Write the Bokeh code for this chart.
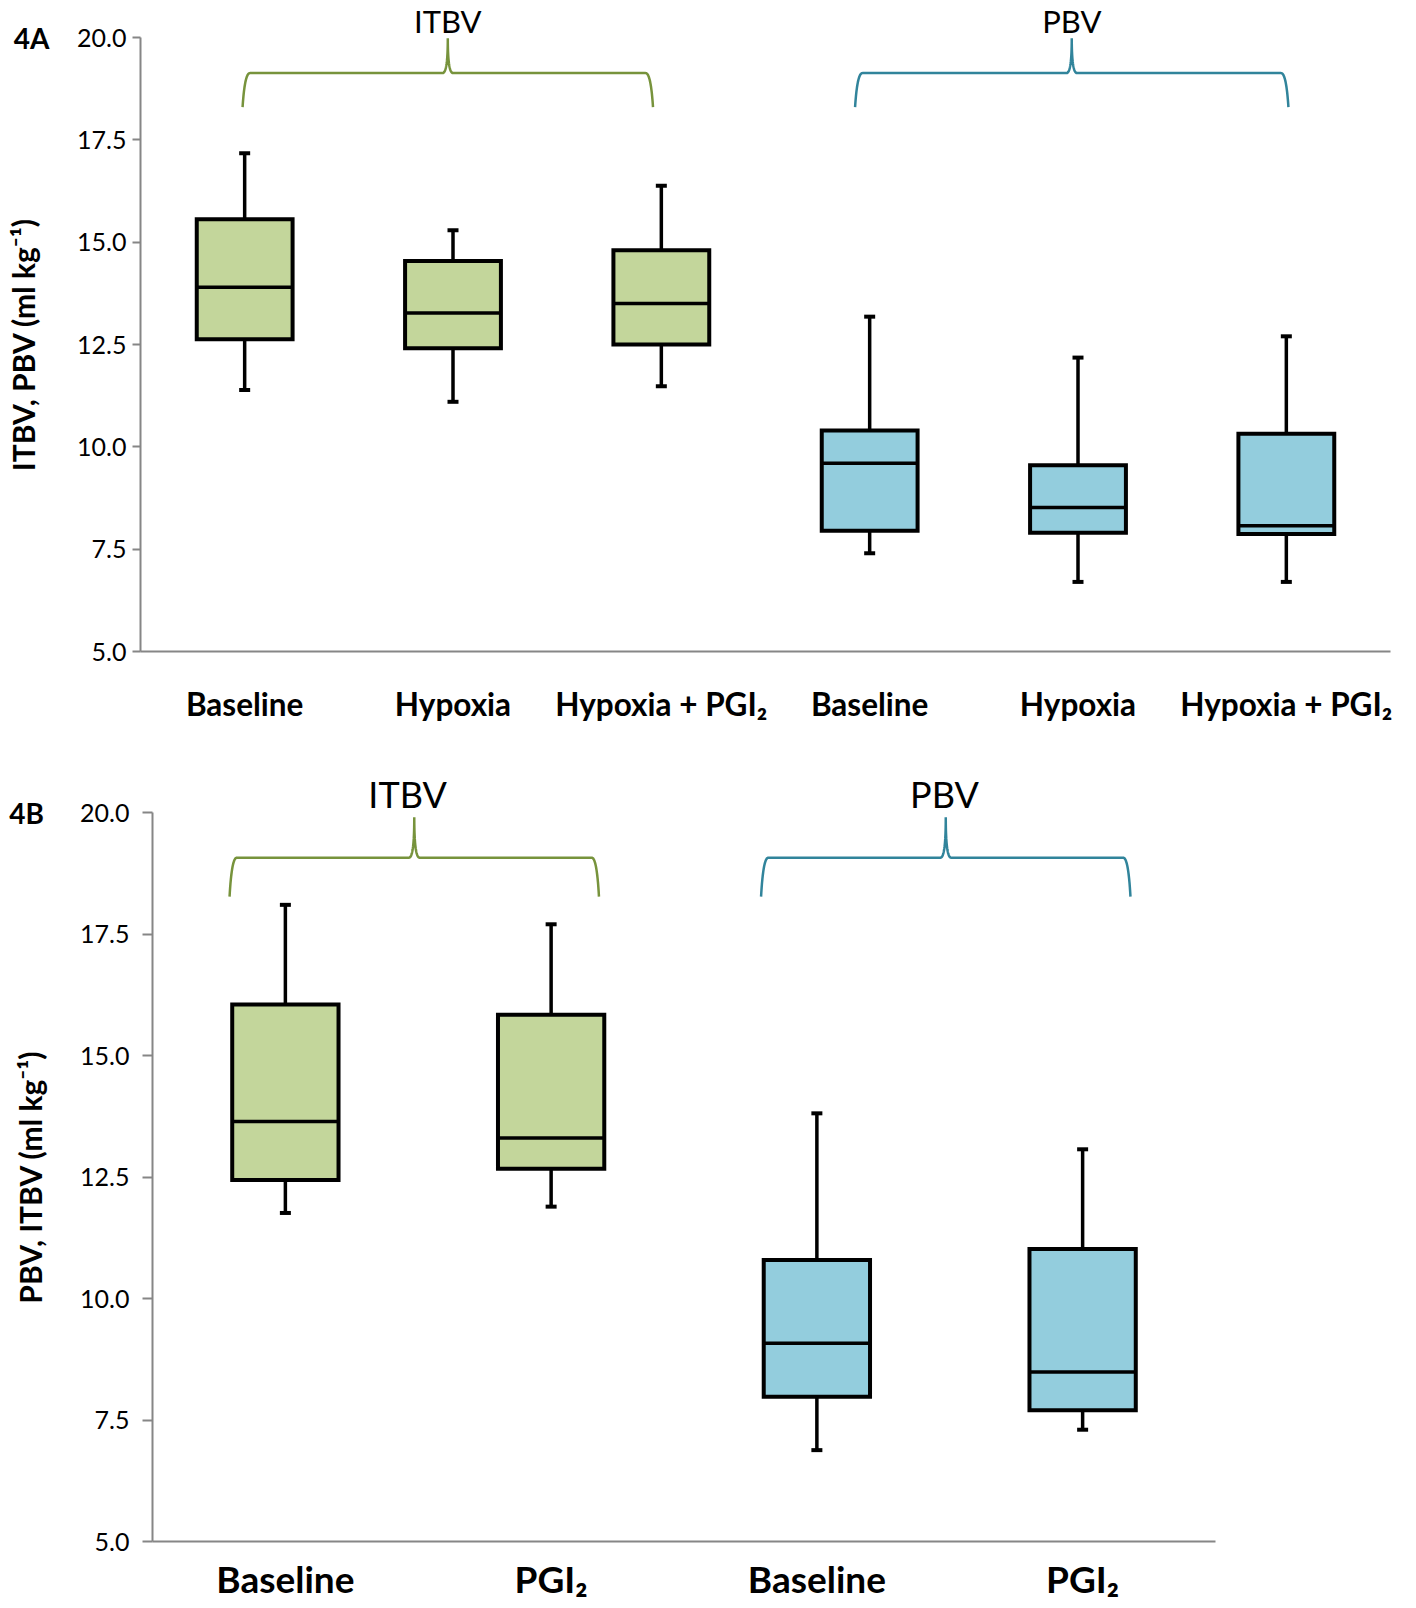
import numpy as np
from bokeh.plotting import figure
from bokeh.layouts import column
from bokeh.models import FixedTicker, PrintfTickFormatter, Label, Range1d
from bokeh.embed import file_html
from bokeh.resources import INLINE

# ---------------- data ----------------
A_labels = ["Baseline", "Hypoxia", "Hypoxia + PGI\u2082", "Baseline", "Hypoxia", "Hypoxia + PGI\u2082"]
A_group = ["ITBV", "ITBV", "ITBV", "PBV", "PBV", "PBV"]
A_low = [11.39, 11.10, 11.48, 7.40, 6.70, 6.70]
A_q1 = [12.63, 12.41, 12.50, 7.95, 7.90, 7.87]
A_med = [13.90, 13.27, 13.50, 9.60, 8.52, 8.07]
A_q3 = [15.56, 14.54, 14.80, 10.40, 9.55, 10.32]
A_high = [17.17, 15.29, 16.38, 13.18, 12.18, 12.70]

B_labels = ["Baseline", "PGI\u2082", "Baseline", "PGI\u2082"]
B_group = ["ITBV", "ITBV", "PBV", "PBV"]
B_low = [11.76, 11.89, 6.88, 7.30]
B_q1 = [12.44, 12.67, 7.98, 7.70]
B_med = [13.64, 13.30, 9.08, 8.49]
B_q3 = [16.05, 15.84, 10.79, 11.02]
B_high = [18.10, 17.70, 13.81, 13.07]

y_ticks = [5.0, 7.5, 10.0, 12.5, 15.0, 17.5, 20.0]

FILL = {"ITBV": "#C3D69B", "PBV": "#93CDDD"}
BRACE = {"ITBV": "#77933C", "PBV": "#31849B"}
AXIS_COLOR = "#868686"
FONT = "Lato"


def quad(p0, p1, p2, n=24):
    t = np.linspace(0, 1, n)
    x = (1 - t) ** 2 * p0[0] + 2 * (1 - t) * t * p1[0] + t ** 2 * p2[0]
    y = (1 - t) ** 2 * p0[1] + 2 * (1 - t) * t * p1[1] + t ** 2 * p2[1]
    return x, y


def brace_path(x0, x1, ylow, ymid, ytop, rx, cw):
    xc = (x0 + x1) / 2
    parts = [
        quad((x0, ylow), (x0 + rx * 0.3, ymid), (x0 + rx, ymid)),
        quad((xc - cw, ymid), (xc, ymid), (xc, ytop)),
        quad((xc, ytop), (xc, ymid), (xc + cw, ymid)),
        quad((x1 - rx, ymid), (x1 - rx * 0.3, ymid), (x1, ylow)),
    ]
    xs = np.concatenate([p[0] for p in parts])
    ys = np.concatenate([p[1] for p in parts])
    return xs, ys


def make_panel(labels, groups, low, q1, med, q3, high, *, width_frac, fig_w, fig_h,
               x_range, y_range, tick_font, label_font, xlabel_font,
               ylabel, panel, brace_spec, title_font, title_y, x_standoff, tick_out,
               tick_standoff, label_standoff):
    n = len(labels)
    xs = list(range(n))
    p = figure(frame_width=fig_w, frame_height=fig_h,
               x_range=Range1d(*x_range), y_range=Range1d(*y_range),
               output_backend="svg", toolbar_location=None,
               min_border_left=0, min_border_right=0,
               min_border_top=0, min_border_bottom=0)
    p.outline_line_color = None
    p.grid.visible = False
    p.background_fill_color = "white"
    p.border_fill_color = "white"

    fills = [FILL[g] for g in groups]
    half = width_frac / 2
    # whiskers
    p.segment(x0=xs, y0=q3, x1=xs, y1=high, line_color="black", line_width=3.5)
    p.segment(x0=xs, y0=q1, x1=xs, y1=low, line_color="black", line_width=3.5)
    p.scatter(x=xs, y=high, marker="dash", size=11, line_color="black", line_width=4)
    p.scatter(x=xs, y=low, marker="dash", size=11, line_color="black", line_width=4)
    # boxes
    p.vbar(x=xs, width=width_frac, bottom=q1, top=q3, fill_color=fills,
           line_color="black", line_width=4, line_join="miter")
    # medians
    p.segment(x0=[x - half for x in xs], y0=med, x1=[x + half for x in xs], y1=med,
              line_color="black", line_width=3.5)

    # braces and group titles
    for g, (x0, x1, ylow, ymid, ytop, rx, cw, tx) in brace_spec.items():
        bx, by = brace_path(x0, x1, ylow, ymid, ytop, rx, cw)
        p.line(bx, by, line_color=BRACE[g], line_width=2.5)
        p.add_layout(Label(x=tx, y=title_y, text=g, text_align="center",
                           text_baseline="middle", text_font=FONT,
                           text_font_size=title_font, text_color="black"))

    # y axis, placed at the left end of the category range
    ya = p.yaxis[0]
    ya.fixed_location = -0.5
    ya.ticker = FixedTicker(ticks=y_ticks)
    ya.formatter = PrintfTickFormatter(format="%.1f")
    ya.bounds = (5, 20)
    ya.axis_line_color = AXIS_COLOR
    ya.axis_line_width = 2
    ya.major_tick_line_color = AXIS_COLOR
    ya.major_tick_line_width = 2
    ya.major_tick_out = tick_out
    ya.major_tick_in = 0
    ya.minor_tick_line_color = None
    ya.major_label_text_font = FONT
    ya.major_label_text_font_size = tick_font
    ya.major_label_text_color = "black"
    ya.major_label_standoff = tick_standoff
    ya.axis_label = ylabel
    ya.axis_label_text_font = FONT
    ya.axis_label_text_font_style = "bold"
    ya.axis_label_text_font_size = label_font
    ya.axis_label_text_color = "black"
    ya.axis_label_standoff = label_standoff

    # x axis, placed at y = 5.0
    xa = p.xaxis[0]
    xa.fixed_location = 5.0
    xa.bounds = (-0.5, n - 0.5)
    xa.ticker = FixedTicker(ticks=xs)
    xa.major_label_overrides = {i: lab for i, lab in enumerate(labels)}
    xa.axis_line_color = AXIS_COLOR
    xa.axis_line_width = 2
    xa.major_tick_line_color = None
    xa.minor_tick_line_color = None
    xa.major_label_text_font = FONT
    xa.major_label_text_font_style = "bold"
    xa.major_label_text_font_size = xlabel_font
    xa.major_label_text_color = "black"
    xa.major_label_standoff = x_standoff

    # panel label
    p.add_layout(Label(x=panel[1], y=20.0, text=panel[0], text_align="center",
                       text_baseline="middle", text_font=FONT, text_font_style="bold",
                       text_font_size="28px", text_color="black"))
    return p


# Panel A: 20.0 at y=37px, 5.0 at y=651px; x=-0.5 at 140px, x=5.5 at 1390px
A_H = 745
sA_y = (651 - 37) / 15.0
sA_x = (1390 - 140) / 6.0
pA = make_panel(A_labels, A_group, A_low, A_q1, A_med, A_q3, A_high,
                width_frac=0.46, fig_w=1416, fig_h=A_H,
                x_range=(-0.5 - 140 / sA_x, 5.5 + (1416 - 1390) / sA_x),
                y_range=(5 - (A_H - 651) / sA_y, 20 + 37 / sA_y),
                tick_font="25px", label_font="30px", xlabel_font="31.5px",
                ylabel="ITBV, PBV (ml kg\u207b\u00b9)", panel=("4A", -0.5 - 109 / sA_x),
                brace_spec={"ITBV": (-0.01, 1.96, 18.3, 19.13, 19.98, 0.035, 0.025, 0.975),
                            "PBV": (2.93, 5.01, 18.3, 19.13, 19.98, 0.035, 0.025, 3.97)},
                title_font="31px", title_y=20 + (37 - 20) / sA_y, x_standoff=27, tick_out=8,
                tick_standoff=6, label_standoff=33)

# Panel B: 20.0 at y=812px, 5.0 at y=1541px (page); x=-0.5 at 152px, x=3.5 at 1215px
B_top = A_H
B_H = 1606 - A_H
sB_y = (1541 - 812) / 15.0
sB_x = (1215 - 152) / 4.0
pB = make_panel(B_labels, B_group, B_low, B_q1, B_med, B_q3, B_high,
                width_frac=0.40, fig_w=1416, fig_h=B_H,
                x_range=(-0.5 - 152 / sB_x, 3.5 + (1416 - 1215) / sB_x),
                y_range=(5 - (B_top + B_H - 1541) / sB_y, 20 + (812 - B_top) / sB_y),
                tick_font="25px", label_font="30px", xlabel_font="37px",
                ylabel="PBV, ITBV (ml kg\u207b\u00b9)", panel=("4B", -0.5 - 126 / sB_x),
                brace_spec={"ITBV": (-0.21, 1.18, 18.27, 19.07, 19.9, 0.027, 0.02, 0.46),
                            "PBV": (1.79, 3.18, 18.27, 19.07, 19.9, 0.027, 0.02, 2.48)},
                title_font="36px", title_y=20.38, x_standoff=8, tick_out=10,
                tick_standoff=13, label_standoff=29)

layout = column(pA, pB, spacing=0)
open("out.html", "w").write(file_html(layout, INLINE))
